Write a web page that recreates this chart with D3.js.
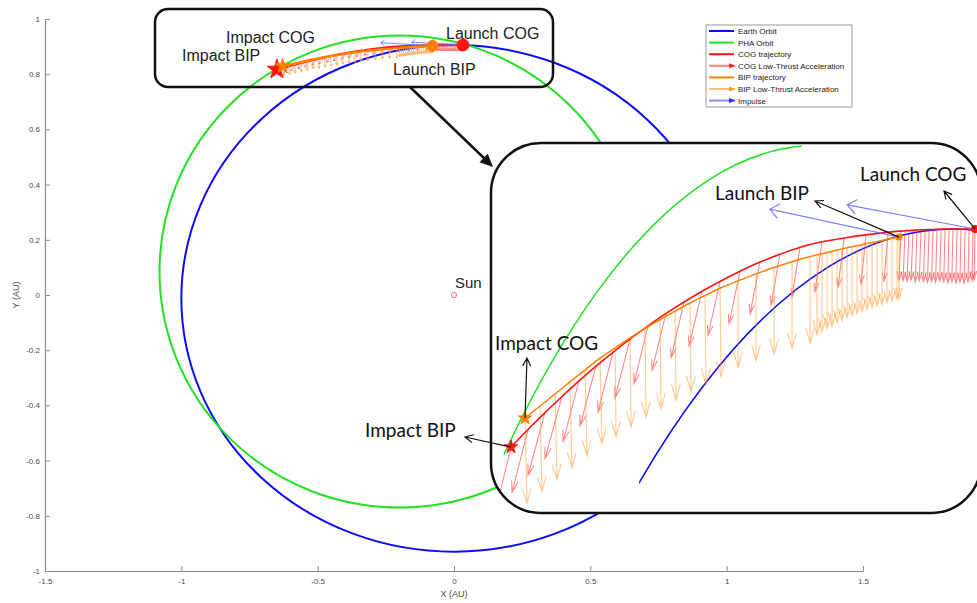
<!DOCTYPE html>
<html><head><meta charset="utf-8">
<script src="https://cdn.jsdelivr.net/npm/d3@7"></script>
<style>
html,body{margin:0;padding:0;background:#fff;}
svg{display:block;}
</style></head><body>
<svg id="chart" width="977" height="603"></svg>
<script>
// ---------- axis ticks ----------
const xTicks = [-1.5, -1, -0.5, 0, 0.5, 1, 1.5];
const yTicks = [-1, -0.8, -0.6, -0.4, -0.2, 0, 0.2, 0.4, 0.6, 0.8, 1];

// ---------- orbits (AU): centre and semi-axes in the ecliptic plane ----------
const earthOrbit = {cx: 0.0, cy: -0.012, rx: 1.0, ry: 0.918};
const phaOrbit = {cx: -0.2, cy: 0.085, rx: 0.88, ry: 0.855};

// ---------- COG trajectory samples (AU), impact end first ----------
const cogX = [-0.6494, -0.6244, -0.5994, -0.5744, -0.5494, -0.5244, -0.4994, -0.4744, -0.4479, -0.4214,
  -0.3949, -0.3685, -0.3420, -0.3126, -0.2832, -0.2538, -0.2244, -0.1920, -0.1596, -0.1273, -0.0949,
  -0.0758, -0.0699, -0.0641, -0.0582, -0.0523, -0.0464, -0.0405, -0.0346, -0.0288, -0.0229,
  -0.0170, -0.0111, -0.0052, 0.0006, 0.0065, 0.0124, 0.0183, 0.0242, 0.0301, 0.0330];
const cogY = [0.8172, 0.8244, 0.8313, 0.8378, 0.8442, 0.8502, 0.8558, 0.8612, 0.8666, 0.8717,
  0.8763, 0.8807, 0.8847, 0.8889, 0.8926, 0.8958, 0.8987, 0.9009, 0.9024, 0.9036, 0.9047,
  0.9052, 0.9053, 0.9054, 0.9055, 0.9056, 0.9057, 0.9057, 0.9058, 0.9058, 0.9059,
  0.9059, 0.9060, 0.9060, 0.9060, 0.9060, 0.9060, 0.9060, 0.9060, 0.9060, 0.9060];
// COG low-thrust acceleration vectors, drawn at the same samples
const cogU = [-0.0221, -0.0235, -0.0250, -0.0250, -0.0235, -0.0235, -0.0221, -0.0221, -0.0206, -0.0206,
  -0.0191, -0.0191, -0.0176, -0.0162, -0.0147, -0.0132, -0.0118, -0.0103, -0.0088, -0.0074, -0.0059,
  -0.0029, -0.0029, -0.0029, -0.0029, -0.0026, -0.0026, -0.0024, -0.0024, -0.0022, -0.0022,
  -0.0020, -0.0020, -0.0018, -0.0018, -0.0016, -0.0016, -0.0015, -0.0015, -0.0015, -0.0015];
const cogV = [-0.0253, -0.0257, -0.0257, -0.0253, -0.0248, -0.0244, -0.0244, -0.0240, -0.0236, -0.0232,
  -0.0228, -0.0224, -0.0220, -0.0216, -0.0212, -0.0208, -0.0204, -0.0204, -0.0200, -0.0200, -0.0200,
  -0.0200, -0.0204, -0.0208, -0.0204, -0.0212, -0.0208, -0.0212, -0.0216, -0.0212, -0.0216,
  -0.0212, -0.0216, -0.0220, -0.0216, -0.0220, -0.0216, -0.0220, -0.0216, -0.0212, -0.0208];

// ---------- BIP trajectory samples (AU), impact end first ----------
const bipX = [-0.6288, -0.6067, -0.5846, -0.5626, -0.5405, -0.5185, -0.4964, -0.4744, -0.4523, -0.4302,
  -0.4082, -0.3861, -0.3641, -0.3420, -0.3155, -0.2891, -0.2626, -0.2361, -0.2096,
  -0.1994, -0.1920, -0.1846, -0.1773, -0.1699, -0.1626, -0.1552, -0.1479, -0.1405, -0.1332,
  -0.1258, -0.1185, -0.1111, -0.1038, -0.0964, -0.0891, -0.0817, -0.0788];
const bipY = [0.8290, 0.8339, 0.8388, 0.8437, 0.8486, 0.8535, 0.8576, 0.8617, 0.8656, 0.8691,
  0.8726, 0.8759, 0.8789, 0.8820, 0.8849, 0.8878, 0.8903, 0.8927, 0.8948,
  0.8955, 0.8959, 0.8964, 0.8969, 0.8974, 0.8979, 0.8984, 0.8988, 0.8992, 0.8996,
  0.9001, 0.9005, 0.9009, 0.9013, 0.9018, 0.9022, 0.9026, 0.9027];
const bipU = [0.0029, 0.0029, 0.0029, 0.0029, 0.0029, 0.0029, 0.0015, 0.0015, 0.0015, 0.0015,
  0.0015, 0.0015, 0.0015, 0.0015, 0, 0, 0, 0, 0,
  0, 0, 0, 0, 0, 0, 0, 0, 0, 0, 0, 0, 0, 0, 0, 0, 0, 0];
const bipV = [-0.0350, -0.0350, -0.0350, -0.0350, -0.0350, -0.0350, -0.0363, -0.0363, -0.0363, -0.0363,
  -0.0363, -0.0363, -0.0363, -0.0363, -0.0354, -0.0354, -0.0354, -0.0354, -0.0354,
  -0.0326, -0.0318, -0.0310, -0.0305, -0.0297, -0.0293, -0.0285, -0.0281, -0.0277, -0.0273,
  -0.0269, -0.0265, -0.0261, -0.0261, -0.0257, -0.0257, -0.0253, -0.0253];

// ---------- launch impulses (COG, BIP) ----------
const impulseX = [0.0330, -0.0788];
const impulseY = [0.9060, 0.9027];
const impulseU = [-0.188, -0.190];
const impulseV = [0.0098, 0.0114];

const legendLabels = ["Earth Orbit", "PHA Orbit", "COG trajectory", "COG Low-Thrust Acceleration",
  "BIP trajectory", "BIP Low-Thrust Acceleration", "Impulse"];

// ---------- colours ----------
const C = {
  earth: "#0b0bff", pha: "#22e022", cog: "#ff1414", bip: "#ff8000",
  cogAcc: "#ff3c3c", bipAcc: "#ff9a30", imp: "#6a6aff", axis: "#8c8c8c"
};

const svg = d3.select("#chart");

// main axes (AU)
const x = d3.scaleLinear().domain([-1.5, 1.5]).range([45, 863]);
const y = d3.scaleLinear().domain([-1, 1]).range([571, 19]);
// magnified view of the transfer region
const ix = d3.scaleLinear().domain([-0.68, 0.04]).range([490.2, 979.8]);
const iy = d3.scaleLinear().domain([0.79, 0.94]).range([513.8, 145.5]);

const tickFont = "8px 'Liberation Sans', Arial, sans-serif";
const gx = svg.append("g").attr("transform", `translate(0,${y(-1)})`)
  .call(d3.axisBottom(x).tickValues(xTicks).tickSize(-5).tickSizeOuter(0).tickPadding(7).tickFormat(d => String(d)));
const gy = svg.append("g").attr("transform", `translate(${x(-1.5)},0)`)
  .call(d3.axisLeft(y).tickValues(yTicks).tickSize(-5).tickSizeOuter(0).tickPadding(5).tickFormat(d => String(d)));
[gx, gy].forEach(g => {
  g.select(".domain").attr("stroke", C.axis).attr("stroke-width", 1.2);
  g.selectAll(".tick line").attr("stroke", C.axis).attr("stroke-width", 1);
  g.selectAll(".tick text").attr("fill", "#4a4a4a").style("font", tickFont);
});
svg.append("text").attr("x", x(0)).attr("y", 597).attr("text-anchor", "middle")
  .attr("fill", "#4a4a4a").style("font", "9px 'Liberation Sans', Arial, sans-serif").text("X (AU)");
svg.append("text").attr("transform", `translate(19,${y(0)}) rotate(-90)`).attr("text-anchor", "middle")
  .attr("fill", "#4a4a4a").style("font", "9px 'Liberation Sans', Arial, sans-serif").text("Y (AU)");

// ---------- helpers ----------
function arrowPath(x0, y0, x1, y1, hl, hw) {
  const dx = x1 - x0, dy = y1 - y0, L = Math.hypot(dx, dy);
  if (L < 0.01) return "";
  const ux = dx / L, uy = dy / L;
  const bx = x1 - ux * hl, by = y1 - uy * hl, px = -uy * hw, py = ux * hw;
  return `M${x0},${y0}L${x1},${y1}M${bx + px},${by + py}L${x1},${y1}L${bx - px},${by - py}`;
}
function quiver(g, sx, sy, X, Y, U, V, color, opacity, sw, small) {
  g.append("g").selectAll("path").data(d3.range(X.length)).join("path")
    .attr("d", i => {
      const x0 = sx(X[i]), y0 = sy(Y[i]), x1 = sx(X[i] + U[i]), y1 = sy(Y[i] + V[i]);
      const L = Math.hypot(x1 - x0, y1 - y0);
      const hl = small ? Math.max(0.2 * L, 2.5) : 0.18 * L;
      const hw = small ? 1.3 : 0.28 * hl;
      return arrowPath(x0, y0, x1, y1, hl, hw);
    })
    .attr("fill", "none").attr("stroke", color).attr("stroke-opacity", opacity).attr("stroke-width", sw);
}
function impulses(g, sx, sy, sw) {
  g.append("g").selectAll("path").data(d3.range(impulseX.length)).join("path")
    .attr("d", i => {
      const x0 = sx(impulseX[i]), y0 = sy(impulseY[i]);
      const x1 = sx(impulseX[i] + impulseU[i]), y1 = sy(impulseY[i] + impulseV[i]);
      const L = Math.hypot(x1 - x0, y1 - y0);
      const hl = 0.07 * L;
      return arrowPath(x0, y0, x1, y1, hl, 0.8 * hl);
    })
    .attr("fill", "none").attr("stroke", C.imp).attr("stroke-opacity", 0.85).attr("stroke-width", sw);
}
function track(g, sx, sy, X, Y, color, sw) {
  const line = d3.line().x(i => sx(X[i])).y(i => sy(Y[i])).curve(d3.curveBasis);
  g.append("path").attr("d", line(d3.range(X.length)))
    .attr("fill", "none").attr("stroke", color).attr("stroke-width", sw);
}
function star(g, px, py, size, color) {
  g.append("path").attr("d", d3.symbol().type(d3.symbolStar).size(size)())
    .attr("transform", `translate(${px},${py})`).attr("fill", color).attr("stroke", color).attr("stroke-width", 1);
}
function ellipse(g, sx, sy, o, color, sw) {
  return g.append("ellipse")
    .attr("cx", sx(o.cx)).attr("cy", sy(o.cy))
    .attr("rx", Math.abs(sx(o.cx + o.rx) - sx(o.cx))).attr("ry", Math.abs(sy(o.cy + o.ry) - sy(o.cy)))
    .attr("fill", "none").attr("stroke", color).attr("stroke-width", sw);
}
const nC = cogX.length - 1, nB = bipX.length - 1;

// ---------- main view ----------
const main = svg.append("g");
ellipse(main, x, y, earthOrbit, C.earth, 2);
ellipse(main, x, y, phaOrbit, C.pha, 2);
track(main, x, y, cogX, cogY, C.cog, 2.4);
quiver(main, x, y, cogX, cogY, cogU, cogV, "#ff5a5a", 0.8, 0.8, true);
track(main, x, y, bipX, bipY, C.bip, 2.4);
quiver(main, x, y, bipX, bipY, bipU, bipV, "#ffa040", 0.9, 0.8, true);
impulses(main, x, y, 1);
main.append("circle").attr("cx", x(bipX[nB])).attr("cy", y(bipY[nB])).attr("r", 5.5)
  .attr("fill", C.bip).attr("stroke", C.bip);
main.append("circle").attr("cx", x(cogX[nC])).attr("cy", y(cogY[nC])).attr("r", 6)
  .attr("fill", C.cog).attr("stroke", C.cog);
star(main, x(cogX[0]), y(cogY[0]), 120, C.cog);
star(main, x(bipX[0]), y(bipY[0]), 70, C.bip);

// Sun
main.append("circle").attr("cx", x(0)).attr("cy", y(0)).attr("r", 2.6)
  .attr("fill", "none").attr("stroke", "#ff6a6a").attr("stroke-width", 1);
main.append("text").attr("x", x(0) + 1).attr("y", y(0) - 7)
  .style("font", "15px 'Liberation Sans', Arial, sans-serif").attr("fill", "#222").text("Sun");

// labels around the transfer in the main view
const bigFont = "16px 'Liberation Sans', Arial, sans-serif";
[["Impact COG", 226, 43], ["Impact BIP", 182, 61], ["Launch COG", 446, 39], ["Launch BIP", 393, 75]]
  .forEach(([t, tx, ty]) => main.append("text").attr("x", tx).attr("y", ty)
    .style("font", bigFont).attr("fill", "#222").text(t));

// callout frame
svg.append("rect").attr("x", 155).attr("y", 9).attr("width", 398).attr("height", 78).attr("rx", 13)
  .attr("fill", "none").attr("stroke", "#111").attr("stroke-width", 2.5);

// ---------- legend ----------
const lg = svg.append("g").attr("transform", "translate(706,25)");
lg.append("rect").attr("width", 146).attr("height", 82).attr("fill", "#fff")
  .attr("stroke", "#999").attr("stroke-width", 1);
const legendStyle = [
  {c: C.earth, arrow: false}, {c: C.pha, arrow: false}, {c: C.cog, arrow: false},
  {c: "#ff8080", arrow: true, h: "#ff2a2a"}, {c: C.bip, arrow: false},
  {c: "#ffc080", arrow: true, h: "#ff9a30"}, {c: "#8c8cff", arrow: true, h: "#3030ff"}
];
legendLabels.forEach((t, i) => {
  const ly = 6 + i * 11.6, s = legendStyle[i];
  lg.append("line").attr("x1", 3).attr("x2", 28).attr("y1", ly).attr("y2", ly)
    .attr("stroke", s.c).attr("stroke-width", 2);
  if (s.arrow) lg.append("path").attr("d", `M23,${ly - 2.5}L30,${ly}L23,${ly + 2.5}Z`).attr("fill", s.h);
  lg.append("text").attr("x", 32).attr("y", ly + 3).style("font", "8px 'Liberation Sans', Arial, sans-serif")
    .attr("fill", "#222").text(t);
});

// ---------- magnified view ----------
const defs = svg.append("defs");
const box = {x: 491, y: 143, w: 490, h: 370, r: 50};
defs.append("clipPath").attr("id", "zoomClip").append("rect")
  .attr("x", box.x).attr("y", box.y).attr("width", box.w).attr("height", box.h).attr("rx", box.r);
defs.append("clipPath").attr("id", "phaPart").append("rect")
  .attr("x", ix(-0.66)).attr("y", 0).attr("width", ix(-0.222) - ix(-0.66)).attr("height", 603);
defs.append("clipPath").attr("id", "earthPart").append("rect")
  .attr("x", ix(-0.461)).attr("y", 0).attr("width", ix(0.04) - ix(-0.461)).attr("height", 603);

svg.append("rect").attr("x", box.x).attr("y", box.y).attr("width", box.w).attr("height", box.h)
  .attr("rx", box.r).attr("fill", "#fff");
const zg = svg.append("g").attr("clip-path", "url(#zoomClip)");
ellipse(zg.append("g").attr("clip-path", "url(#phaPart)"), ix, iy, phaOrbit, C.pha, 1.5);
ellipse(zg.append("g").attr("clip-path", "url(#earthPart)"), ix, iy, earthOrbit, C.earth, 1.5);
quiver(zg, ix, iy, cogX, cogY, cogU, cogV, C.cogAcc, 0.6, 1.1, false);
quiver(zg, ix, iy, bipX, bipY, bipU, bipV, C.bipAcc, 0.55, 1.1, false);
track(zg, ix, iy, cogX, cogY, C.cog, 1.6);
track(zg, ix, iy, bipX, bipY, C.bip, 1.5);
impulses(zg, ix, iy, 1.2);
zg.append("circle").attr("cx", ix(bipX[nB])).attr("cy", iy(bipY[nB])).attr("r", 3.5).attr("fill", C.bip);
zg.append("circle").attr("cx", ix(cogX[nC])).attr("cy", iy(cogY[nC])).attr("r", 4).attr("fill", C.cog);
star(zg, ix(cogX[0]), iy(cogY[0]), 55, C.cog);
star(zg, ix(bipX[0]), iy(bipY[0]), 55, C.bip);
svg.append("rect").attr("x", box.x).attr("y", box.y).attr("width", box.w).attr("height", box.h)
  .attr("rx", box.r).attr("fill", "none").attr("stroke", "#111").attr("stroke-width", 2.5);

// annotations in the magnified view
const calFont = "19px Lato, 'Open Sans', sans-serif";
const notes = [
  {t: "Launch COG", px: ix(cogX[nC]), py: iy(cogY[nC]), tx: 860, ty: 181, ax: 944, ay: 191},
  {t: "Launch BIP", px: ix(bipX[nB]), py: iy(bipY[nB]), tx: 715, ty: 200, ax: 815, ay: 201},
  {t: "Impact COG", px: ix(bipX[0]), py: iy(bipY[0]), tx: 495, ty: 350, ax: 527, ay: 358},
  {t: "Impact BIP", px: ix(cogX[0]), py: iy(cogY[0]), tx: 365, ty: 437, ax: 465, ay: 437}
];
notes.forEach(n => {
  svg.append("path").attr("d", arrowPath(n.px, n.py, n.ax, n.ay, 8, 4))
    .attr("fill", "none").attr("stroke", "#111").attr("stroke-width", 1.2);
  svg.append("text").attr("x", n.tx).attr("y", n.ty).style("font", calFont).attr("fill", "#111").text(n.t);
});

// pointer from the callout frame to the magnified view
svg.append("line").attr("x1", 410).attr("y1", 87).attr("x2", 485).attr("y2", 159)
  .attr("stroke", "#111").attr("stroke-width", 2.5);
svg.append("path").attr("d", (() => {
  const x1 = 493, y1 = 167, ux = 0.722, uy = 0.692, hl = 13, hw = 6;
  const bx = x1 - ux * hl, by = y1 - uy * hl;
  return `M${x1},${y1}L${bx - uy * hw},${by + ux * hw}L${bx + uy * hw},${by - ux * hw}Z`;
})()).attr("fill", "#111");
</script>
</body></html>
